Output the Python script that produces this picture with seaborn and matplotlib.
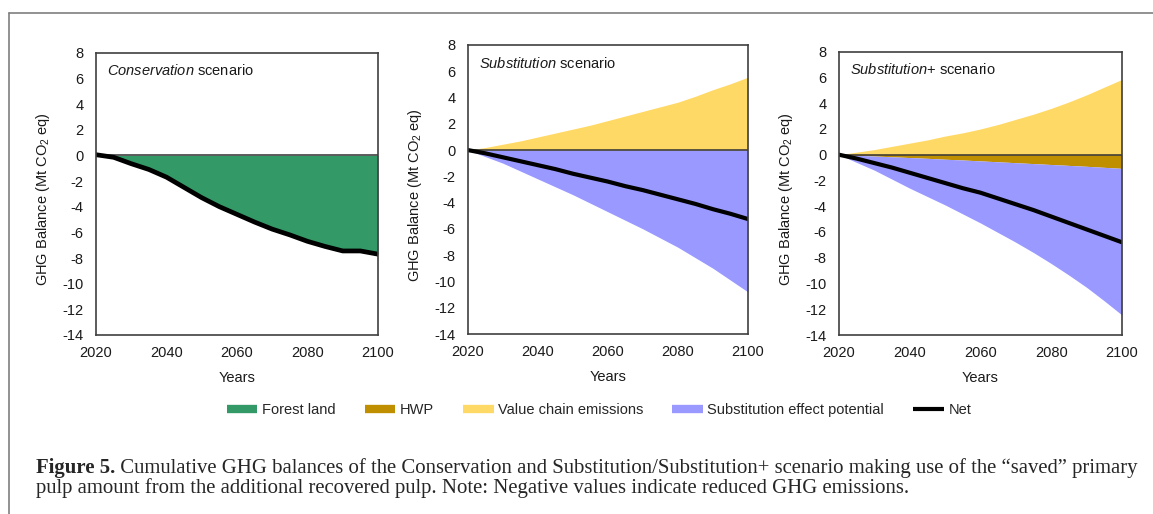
import matplotlib
matplotlib.use("Agg")
import numpy as np
import pandas as pd
import seaborn as sns
import matplotlib.pyplot as plt
from matplotlib.lines import Line2D

# ---------------- data ----------------
years = list(range(2020, 2101, 5))

cons_forest = [0.05, -0.15, -0.65, -1.1, -1.7, -2.5, -3.3, -4.0, -4.6,
               -5.2, -5.75, -6.2, -6.7, -7.1, -7.45, -7.45, -7.7]
cons_net = [0.05, -0.15, -0.65, -1.1, -1.7, -2.5, -3.3, -4.0, -4.6,
            -5.2, -5.75, -6.2, -6.7, -7.1, -7.45, -7.45, -7.7]

sub_value_chain = [0.0, 0.2, 0.45, 0.7, 1.0, 1.3, 1.6, 1.9, 2.25,
                   2.6, 2.95, 3.3, 3.65, 4.1, 4.6, 5.05, 5.55]
sub_substitution = [0.0, -0.5, -1.0, -1.6, -2.2, -2.8, -3.4, -4.05, -4.7,
                    -5.35, -6.0, -6.7, -7.4, -8.2, -9.0, -9.9, -10.8]
sub_net = [0.0, -0.25, -0.55, -0.85, -1.15, -1.45, -1.8, -2.1, -2.4,
           -2.75, -3.05, -3.4, -3.75, -4.1, -4.5, -4.85, -5.25]

subp_value_chain = [0.0, 0.2, 0.4, 0.65, 0.9, 1.15, 1.45, 1.7, 2.0,
                    2.35, 2.75, 3.15, 3.6, 4.1, 4.65, 5.25, 5.85]
subp_hwp = [0.0, -0.05, -0.1, -0.16, -0.22, -0.28, -0.35, -0.41, -0.48,
            -0.55, -0.62, -0.69, -0.76, -0.83, -0.9, -0.98, -1.06]
subp_substitution = [0.0, -0.55, -1.1, -1.74, -2.38, -2.97, -3.55, -4.19, -4.82,
                     -5.5, -6.18, -6.91, -7.69, -8.52, -9.4, -10.37, -11.39]
subp_net = [0.0, -0.3, -0.65, -1.0, -1.4, -1.8, -2.2, -2.6, -2.95,
            -3.4, -3.85, -4.3, -4.8, -5.3, -5.8, -6.3, -6.8]

y_ticks = list(range(-14, 9, 2))
x_ticks = [2020, 2040, 2060, 2080, 2100]
legend_labels = ["Forest land", "HWP", "Value chain emissions",
                 "Substitution effect potential", "Net"]
panel_italic = ["Conservation", "Substitution", "Substitution"]
panel_rest = [" scenario", " scenario", "+ scenario"]
y_label = r"GHG Balance (Mt CO$_2$ eq)"
x_label = "Years"
caption_bold = "Figure 5."
caption_line1 = (" Cumulative GHG balances of the Conservation and Substitution/Substitution+"
                 " scenario making use of the \u201csaved\u201d primary")
caption_line2 = ("pulp amount from the additional recovered pulp. Note: Negative values"
                 " indicate reduced GHG emissions.")

# ---------------- style ----------------
C_FOREST = "#339966"
C_HWP = "#BF8F00"
C_VC = "#FFD966"
C_SUB = "#9999FF"
C_NET = "#000000"
SPINE = "#404040"

sns.set_theme(style="white")
plt.rcParams["font.family"] = ["Liberation Sans", "DejaVu Sans"]
plt.rcParams["axes.unicode_minus"] = False
plt.rcParams["mathtext.fontset"] = "custom"
plt.rcParams["mathtext.rm"] = "Liberation Sans"
plt.rcParams["mathtext.it"] = "Liberation Sans:italic"
plt.rcParams["mathtext.bf"] = "Liberation Sans:bold"

W, H = 1153, 514
fig = plt.figure(figsize=(W / 100, H / 100), dpi=100)
fig.patch.set_facecolor("white")

# axes boxes in pixels: left, top, right, bottom
boxes = [(96, 52.7, 378, 335), (468, 45, 748, 334), (839, 51.7, 1122, 335)]
axes = []
for (l, t, r, b) in boxes:
    ax = fig.add_axes([l / W, 1 - b / H, (r - l) / W, (b - t) / H])
    axes.append(ax)

yrs = np.array(years, dtype=float)

# panel 1: conservation
ax = axes[0]
ax.fill_between(yrs, 0, cons_forest, color=C_FOREST, lw=0)
df = pd.DataFrame({"Year": years, "Net": cons_net})
sns.lineplot(data=df, x="Year", y="Net", ax=ax, color=C_NET, lw=3.4)

# panel 2: substitution
ax = axes[1]
ax.fill_between(yrs, 0, sub_value_chain, color=C_VC, lw=0)
ax.fill_between(yrs, 0, sub_substitution, color=C_SUB, lw=0)
df = pd.DataFrame({"Year": years, "Net": sub_net})
sns.lineplot(data=df, x="Year", y="Net", ax=ax, color=C_NET, lw=3.0)

# panel 3: substitution+
ax = axes[2]
hwp = np.array(subp_hwp)
ax.fill_between(yrs, 0, subp_value_chain, color=C_VC, lw=0)
ax.fill_between(yrs, 0, hwp, color=C_HWP, lw=0)
ax.fill_between(yrs, hwp, hwp + np.array(subp_substitution), color=C_SUB, lw=0)
df = pd.DataFrame({"Year": years, "Net": subp_net})
sns.lineplot(data=df, x="Year", y="Net", ax=ax, color=C_NET, lw=3.0)

for i, ax in enumerate(axes):
    ax.axhline(0, color="#303030", lw=1.1, zorder=1.5)
    ax.set_xlim(2020, 2100)
    ax.set_ylim(-14, 8)
    ax.set_xticks(x_ticks)
    ax.set_yticks(y_ticks)
    ax.tick_params(axis="both", length=0, labelsize=10.5, colors="#1a1a1a")
    ax.tick_params(axis="y", pad=9)
    ax.tick_params(axis="x", pad=8)
    for s in ax.spines.values():
        s.set_color(SPINE)
        s.set_linewidth(1.2)
        s.set_visible(True)
    ax.set_xlabel(x_label, fontsize=10.5, color="#1a1a1a")
    ax.set_ylabel(y_label, fontsize=10.5, color="#1a1a1a")
    (l, t, r, b) = boxes[i]
    ax.yaxis.set_label_coords(-44 / (r - l), 0.48)
    ax.xaxis.set_label_coords(0.5, -36 / (b - t))
    ax.grid(False)
    ax.annotate(r"$\it{" + panel_italic[i] + "}$" + panel_rest[i],
                xy=(0, 1), xycoords="axes fraction", xytext=(8, -13),
                textcoords="offset points", ha="left", va="center",
                fontsize=10.5, color="#1a1a1a")

# legend
handles = [
    Line2D([], [], color=C_FOREST, lw=6, solid_capstyle="butt"),
    Line2D([], [], color=C_HWP, lw=6, solid_capstyle="butt"),
    Line2D([], [], color=C_VC, lw=6, solid_capstyle="butt"),
    Line2D([], [], color=C_SUB, lw=6, solid_capstyle="butt"),
    Line2D([], [], color=C_NET, lw=3, solid_capstyle="butt"),
]
fig.legend(handles, legend_labels, loc="center", bbox_to_anchor=(599 / W, 1 - 410 / H),
           ncol=5, frameon=False, fontsize=10.5, handlelength=2.1,
           handletextpad=0.3, columnspacing=2.0, borderaxespad=0)

# frame lines
fig.add_artist(Line2D([8.7 / W, 1.0], [1 - 12.7 / H, 1 - 12.7 / H],
                      transform=fig.transFigure, color="#7f7f7f", lw=1.2))
fig.add_artist(Line2D([8.7 / W, 8.7 / W], [1 - 12.7 / H, 0.0],
                      transform=fig.transFigure, color="#7f7f7f", lw=1.2))

# caption (fit line 1 between x=36 and x=1137)
renderer = fig.canvas.get_renderer()
serif = ["Liberation Serif", "DejaVu Serif"]
base = 12.0
tb = fig.text(36 / W, 1 - 468 / H, caption_bold, family=serif, weight="bold",
              fontsize=base, va="center", ha="left")
tr = fig.text(0, 1 - 468 / H, caption_line1, family=serif, fontsize=base,
              va="center", ha="left")
wb = tb.get_window_extent(renderer).width
wr = tr.get_window_extent(renderer).width
fs = base * (1137 - 36) / (wb + wr)
tb.set_fontsize(fs)
tr.set_fontsize(fs)
wb = tb.get_window_extent(renderer).width
tr.set_x((36 + wb) / W)
fig.text(36 / W, 1 - 488 / H, caption_line2, family=serif, fontsize=fs,
         va="center", ha="left")

fig.savefig("out.png", dpi=100, facecolor="white")
